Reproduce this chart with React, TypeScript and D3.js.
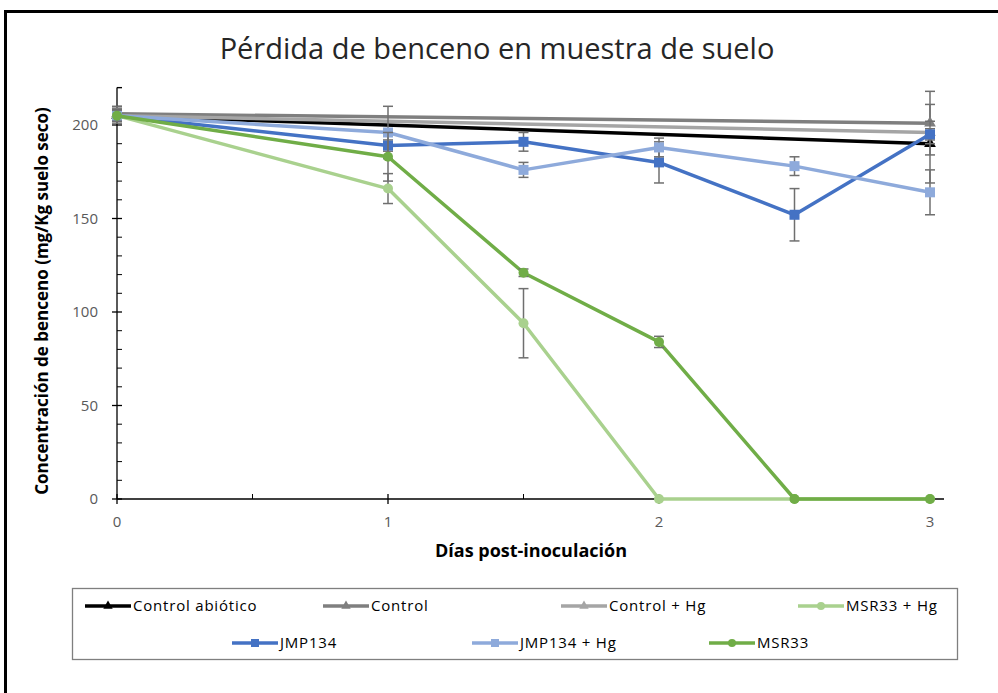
import React from 'react';
import * as d3 from 'd3';

// days sampled
const daysControl = [0, 3];
const daysInoc = [0, 1, 1.5, 2, 2.5, 3];

// benzene concentration (mg/Kg suelo seco) and error bars
const controlAbiotico = [205, 190];
const controlAbioticoErr = [4, 21];
const control = [206, 201];
const controlErr = [4, 17];
const controlHg = [205, 196];
const controlHgErr = [3, 6];
const msr33Hg = [205, 166, 94, 0, 0, 0];
const msr33HgErr = [3, 8, 18.5, 0, 0, 0];
const jmp134 = [205, 189, 191, 180, 152, 195];
const jmp134Err = [3, 3, 5, 11, 14, 3];
const jmp134Hg = [205, 196, 176, 188, 178, 164];
const jmp134HgErr = [3, 14, 4, 5, 5, 12];
const msr33 = [205, 183, 121, 84, 0, 0];
const msr33Err = [3, 13, 2, 3, 0, 0];

const xTicks = [0, 1, 2, 3];
const yTicks = [0, 50, 100, 150, 200];

type Shape = 'triangle' | 'square' | 'circle';

const series = [
  { name: 'Control abiótico', x: daysControl, y: controlAbiotico, err: controlAbioticoErr, color: '#000000', shape: 'triangle' as Shape },
  { name: 'Control', x: daysControl, y: control, err: controlErr, color: '#7f7f7f', shape: 'triangle' as Shape },
  { name: 'Control + Hg', x: daysControl, y: controlHg, err: controlHgErr, color: '#a5a5a5', shape: 'triangle' as Shape },
  { name: 'MSR33 + Hg', x: daysInoc, y: msr33Hg, err: msr33HgErr, color: '#a9d18e', shape: 'circle' as Shape },
  { name: 'JMP134', x: daysInoc, y: jmp134, err: jmp134Err, color: '#4472c4', shape: 'square' as Shape },
  { name: 'JMP134 + Hg', x: daysInoc, y: jmp134Hg, err: jmp134HgErr, color: '#8eaadb', shape: 'square' as Shape },
  { name: 'MSR33', x: daysInoc, y: msr33, err: msr33Err, color: '#70ad47', shape: 'circle' as Shape },
];

// legend slots [x of line start, y]
const legendPos = [
  [85, 606], [323, 606], [561, 606], [798, 606],
  [232, 643], [472, 643], [709, 643],
];

const FONT = '"Open Sans", "Noto Sans", sans-serif';

function Marker({ shape, x, y, color, size }: { shape: Shape; x: number; y: number; color: string; size: number }) {
  if (shape === 'square') {
    return <rect x={x - size / 2} y={y - size / 2} width={size} height={size} fill={color} />;
  }
  if (shape === 'circle') {
    return <circle cx={x} cy={y} r={size / 2} fill={color} />;
  }
  const sym = d3.symbol().type(d3.symbolTriangle).size(size * size * 0.6)();
  return <path d={sym || ''} transform={`translate(${x},${y})`} fill={color} />;
}

export default function App() {
  const x = d3.scaleLinear().domain([0, 3]).range([117, 930]);
  const y = d3.scaleLinear().domain([0, 220]).range([499, 87.6]);
  const line = d3.line<[number, number]>().x(d => x(d[0])).y(d => y(d[1]));

  const minorY = d3.range(0, 221, 10).filter(v => v % 50 !== 0);
  const minorX = [0.5, 1.5, 2.5];

  return (
    <svg width={998} height={693} style={{ position: 'absolute', left: 0, top: 0, background: '#fff' }}>
      <rect x={0} y={0} width={998} height={693} fill="#fff" />
      {/* outer frame */}
      <rect x={5.5} y={11.5} width={1100} height={800} fill="none" stroke="#000" strokeWidth={3} />

      <text x={497} y={59} textAnchor="middle" fontFamily={FONT} fontSize={29} fill="#262626">
        Pérdida de benceno en muestra de suelo
      </text>

      {/* y axis */}
      <line x1={x(0)} x2={x(0)} y1={y(220)} y2={y(0)} stroke="#000" strokeWidth={1.3} />
      <line x1={x(0)} x2={x(0) + 5} y1={y(220)} y2={y(220)} stroke="#000" strokeWidth={1.3} />
      {minorY.map(v => (
        <line key={'my' + v} x1={x(0)} x2={x(0) + 5} y1={y(v)} y2={y(v)} stroke="#000" strokeWidth={1} />
      ))}
      {yTicks.map(v => (
        <g key={'y' + v}>
          <line x1={x(0) - 5} x2={x(0) + 5} y1={y(v)} y2={y(v)} stroke="#000" strokeWidth={1.3} />
          <text x={98} y={y(v) + 5} textAnchor="end" fontFamily={FONT} fontSize={15} fill="#595959">{v}</text>
        </g>
      ))}

      {/* x axis */}
      <line x1={x(0)} x2={x(3) + 14} y1={y(0)} y2={y(0)} stroke="#000" strokeWidth={1.3} />
      {minorX.map(v => (
        <line key={'mx' + v} x1={x(v)} x2={x(v)} y1={y(0)} y2={y(0) - 5} stroke="#000" strokeWidth={1} />
      ))}
      {xTicks.map(v => (
        <g key={'x' + v}>
          <line x1={x(v)} x2={x(v)} y1={y(0) - 5} y2={y(0) + 5} stroke="#000" strokeWidth={1.3} />
          <text x={x(v)} y={527} textAnchor="middle" fontFamily={FONT} fontSize={15} fill="#595959">{v}</text>
        </g>
      ))}

      <text x={531} y={557} textAnchor="middle" fontFamily={FONT} fontSize={18} fontWeight="bold" fill="#000">
        Días post-inoculación
      </text>
      <text transform={`translate(48,301) rotate(-90)`} textAnchor="middle" fontFamily={FONT} fontSize={17} fontWeight="bold" fill="#000">
        Concentración de benceno (mg/Kg suelo seco)
      </text>

      {/* series */}
      {series.map(s => {
        const pts = s.x.map((d, i) => [d, s.y[i]] as [number, number]);
        return (
          <g key={s.name}>
            <path d={line(pts) || ''} fill="none" stroke={s.color} strokeWidth={3.5} strokeLinejoin="round" />
            {pts.map((p, i) =>
              s.err[i] > 0 ? (
                <g key={'e' + i} stroke="#6f6f6f" strokeWidth={1.5}>
                  <line x1={x(p[0])} x2={x(p[0])} y1={y(p[1] + s.err[i])} y2={y(p[1] - s.err[i])} />
                  <line x1={x(p[0]) - 5} x2={x(p[0]) + 5} y1={y(p[1] + s.err[i])} y2={y(p[1] + s.err[i])} />
                  <line x1={x(p[0]) - 5} x2={x(p[0]) + 5} y1={y(p[1] - s.err[i])} y2={y(p[1] - s.err[i])} />
                </g>
              ) : null
            )}
            {pts.map((p, i) => (
              <Marker key={'m' + i} shape={s.shape} x={x(p[0])} y={y(p[1])} color={s.color} size={10} />
            ))}
          </g>
        );
      })}

      {/* legend */}
      <rect x={72.5} y={588.5} width={885} height={71} fill="#fff" stroke="#7f7f7f" strokeWidth={1.3} />
      {series.map((s, i) => {
        const [lx, ly] = legendPos[i];
        return (
          <g key={'l' + s.name}>
            <line x1={lx} x2={lx + 46} y1={ly} y2={ly} stroke={s.color} strokeWidth={3.5} />
            <Marker shape={s.shape} x={lx + 23} y={ly} color={s.color} size={8} />
            <text x={lx + 48} y={ly + 5} fontFamily={FONT} fontSize={15} letterSpacing={0.8} fill="#000">{s.name}</text>
          </g>
        );
      })}
    </svg>
  );
}
